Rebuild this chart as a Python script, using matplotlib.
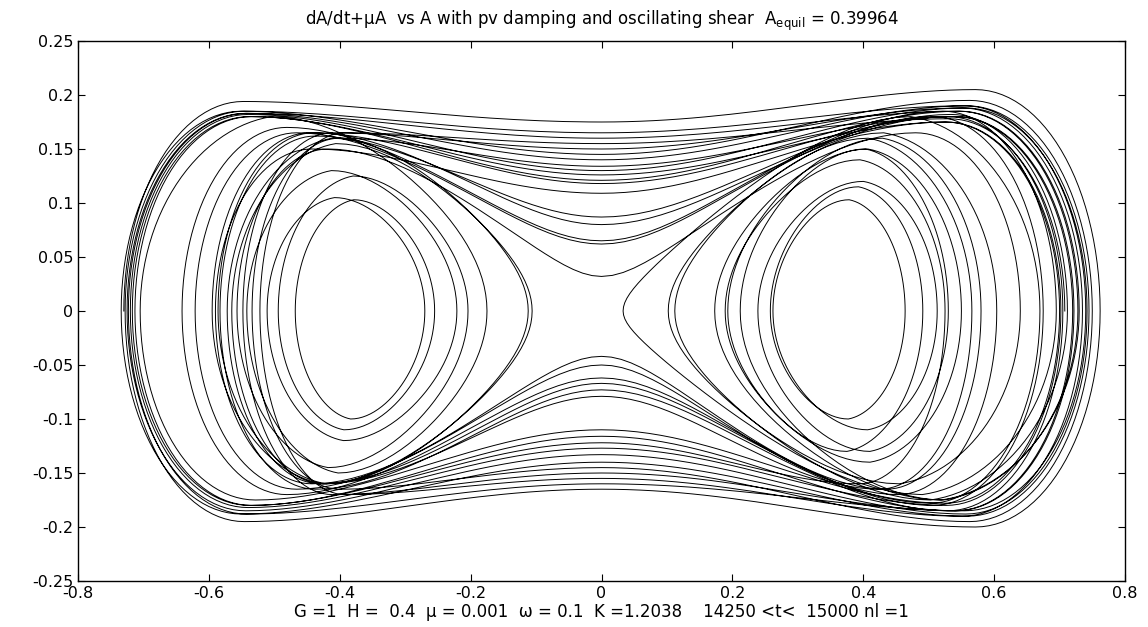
import numpy as np
import matplotlib
matplotlib.use('Agg')
import matplotlib.pyplot as plt

plt.rcParams['font.family'] = 'DejaVu Sans'

# turning points of the trajectory (where the curve meets y = 0), in order
turn_x = [-0.730, 0.762, -0.728, 0.740, -0.723, 0.728, 0.212, 0.530, 0.239, 0.513,
          0.262, 0.464, 0.258, 0.491, 0.193, 0.580, -0.590, 0.700, -0.705, -0.175,
          -0.542, -0.221, -0.511, -0.270, -0.468, -0.255, -0.494, -0.204, -0.557, 0.640,
          0.102, 0.604, -0.621, 0.675, -0.641, 0.695, 0.033, 0.670, -0.572, -0.112,
          -0.586, 0.705, -0.583, 0.712, 0.112, 0.566, -0.565, -0.106, -0.595, 0.720,
          -0.713, 0.730, 0.173, 0.550, 0.189, 0.525, -0.717, 0.702, -0.720, 0.742,
          -0.725, 0.745, -0.734, 0.750, -0.534, 0.722, -0.548, 0.735, -0.522, 0.708]

nan = np.nan
# value at A = 0 for the swings that cross the middle (nan: swing stays in one well)
center_y = [0.175, -0.165, 0.165, -0.160, 0.160, nan, nan, nan, nan, nan,
            nan, nan, nan, nan, nan, -0.042, 0.109, -0.110, nan, nan,
            nan, nan, nan, nan, nan, nan, nan, nan, 0.032, nan,
            nan, -0.050, 0.062, -0.062, 0.065, nan, nan, -0.067, nan, nan,
            0.080, -0.073, 0.087, nan, nan, -0.079, nan, nan, 0.118, -0.116,
            0.121, nan, nan, nan, nan, -0.122, 0.126, -0.127, 0.130, -0.133,
            0.140, -0.140, 0.145, -0.145, 0.134, -0.150, 0.150, -0.155, 0.155]

# hump heights near the start and the end of each swing
peak_start = [0.194, -0.200, 0.185, -0.185, 0.183, -0.175, 0.150, -0.130, 0.120, -0.110,
              0.103, -0.100, 0.115, -0.130, 0.160, -0.165, 0.150, -0.178, 0.180, -0.150,
              0.130, -0.120, 0.105, -0.100, 0.103, -0.110, 0.125, -0.145, 0.150, -0.160,
              0.165, -0.170, 0.165, -0.180, 0.170, -0.170, 0.180, -0.178, 0.160, -0.160,
              0.165, -0.185, 0.162, -0.175, 0.160, -0.165, 0.155, -0.160, 0.165, -0.185,
              0.180, -0.175, 0.150, -0.140, 0.140, -0.160, 0.180, -0.180, 0.182, -0.188,
              0.183, -0.190, 0.185, -0.195, 0.160, -0.185, 0.165, -0.190, 0.165]
peak_end = [0.205, -0.195, 0.190, -0.188, 0.185, -0.175, 0.150, -0.130, 0.120, -0.110,
            0.103, -0.100, 0.115, -0.130, 0.160, -0.160, 0.175, -0.175, 0.180, -0.150,
            0.130, -0.120, 0.105, -0.100, 0.103, -0.110, 0.125, -0.145, 0.165, -0.160,
            0.165, -0.165, 0.180, -0.170, 0.185, -0.170, 0.180, -0.160, 0.160, -0.160,
            0.180, -0.165, 0.182, -0.175, 0.160, -0.160, 0.155, -0.160, 0.180, -0.180,
            0.185, -0.175, 0.150, -0.140, 0.140, -0.180, 0.175, -0.182, 0.188, -0.185,
            0.190, -0.188, 0.195, -0.165, 0.180, -0.170, 0.188, -0.170, 0.178]

x_ticks = [-0.8, -0.6, -0.4, -0.2, 0, 0.2, 0.4, 0.6, 0.8]
y_ticks = [-0.25, -0.2, -0.15, -0.1, -0.05, 0, 0.05, 0.1, 0.15, 0.2, 0.25]


def V(u):
    return u**4 / 4 - u**2 / 2


def cap(x_h, x_end, peak, q, n=30):
    # rounded end from the hump down to the turning point
    s = np.sin(np.linspace(0, np.pi / 2, n))
    return x_h + s * (x_end - x_h), peak * np.sqrt(1 - s) * (1 + s) ** q


def half_cross(x_far, yc, peak, n=30):
    # from A = 0 out to a turning point: saddle part, hump, then rounded end
    r = max(abs(peak) / abs(yc), 1.02)
    E = 0.25 / (r * r - 1)
    x_h = 0.75 * x_far
    u = np.linspace(0, 1, n)
    y = yc * np.sqrt(1 + (u**2 / 2 - u**4 / 4) / E)
    xc, yc2 = cap(x_h, x_far, peak, 0.5)
    return np.concatenate([x_h * u, xc[1:]]), np.concatenate([y, yc2[1:]])


def well_swing(x0, x1, peak, n=30):
    flip = abs(x0) > abs(x1)
    x_in, x_out = (x1, x0) if flip else (x0, x1)
    u_in = np.clip(abs(x_in) / 0.4, 0.02, 0.98)
    E = V(u_in)
    u_out = np.sqrt(1 + np.sqrt(1 + 4 * E))
    x_h = x_in + (1 - u_in) / (u_out - u_in) * (x_out - x_in)
    u = u_in + (1 - u_in) * (1 - np.cos(np.linspace(0, np.pi / 2, n)))
    v = np.sqrt(np.clip(E - V(u), 0, None))
    xa = x_in + (u - u_in) / (1 - u_in) * (x_h - x_in)
    ya = peak * v / np.sqrt(E + 0.25)
    xc, yc2 = cap(x_h, x_out, peak, 0.4)
    x = np.concatenate([xa, xc[1:]])
    y = np.concatenate([ya, yc2[1:]])
    if flip:
        x, y = x[::-1], y[::-1]
    return x, y


xs, ys = [], []
for i in range(len(turn_x) - 1):
    a, b = turn_x[i], turn_x[i + 1]
    if np.isnan(center_y[i]):
        x, y = well_swing(a, b, peak_start[i])
    else:
        xa, ya = half_cross(a, center_y[i], peak_start[i])
        xb, yb = half_cross(b, center_y[i], peak_end[i])
        x = np.concatenate([xa[::-1], xb[1:]])
        y = np.concatenate([ya[::-1], yb[1:]])
    if xs:
        x, y = x[1:], y[1:]
    xs.append(x)
    ys.append(y)

fig = plt.figure(figsize=(11.48, 6.27), dpi=100)
ax = fig.add_axes([78 / 1148, 46 / 627, 1047 / 1148, 540 / 627])
ax.plot(np.concatenate(xs), np.concatenate(ys), color='black', lw=0.7)

ax.set_xlim(-0.8, 0.8)
ax.set_ylim(-0.25, 0.25)
ax.set_xticks(x_ticks)
ax.set_xticklabels([f'{v + 0:g}' for v in x_ticks])
ax.set_yticks(y_ticks)
ax.set_yticklabels([f'{v + 0:g}' for v in y_ticks])
ax.tick_params(direction='in', top=True, right=True, length=5, width=0.8,
               labelsize=11.5, pad=3.5)
for s in ax.spines.values():
    s.set_linewidth(1.0)

fig.text(601.5 / 1148, 1 - 25 / 627,
         r'dA/dt+μA  vs A with pv damping and oscillating shear  A$_{\mathrm{equil}}$ = 0.39964',
         ha='center', va='baseline', fontsize=12)
fig.text(601.5 / 1148, 1 - 617 / 627,
         'G =1  H =  0.4  μ = 0.001  ω = 0.1  K =1.2038    14250 <t<  15000 nl =1',
         ha='center', va='baseline', fontsize=12)

fig.savefig('out.png', dpi=100)
